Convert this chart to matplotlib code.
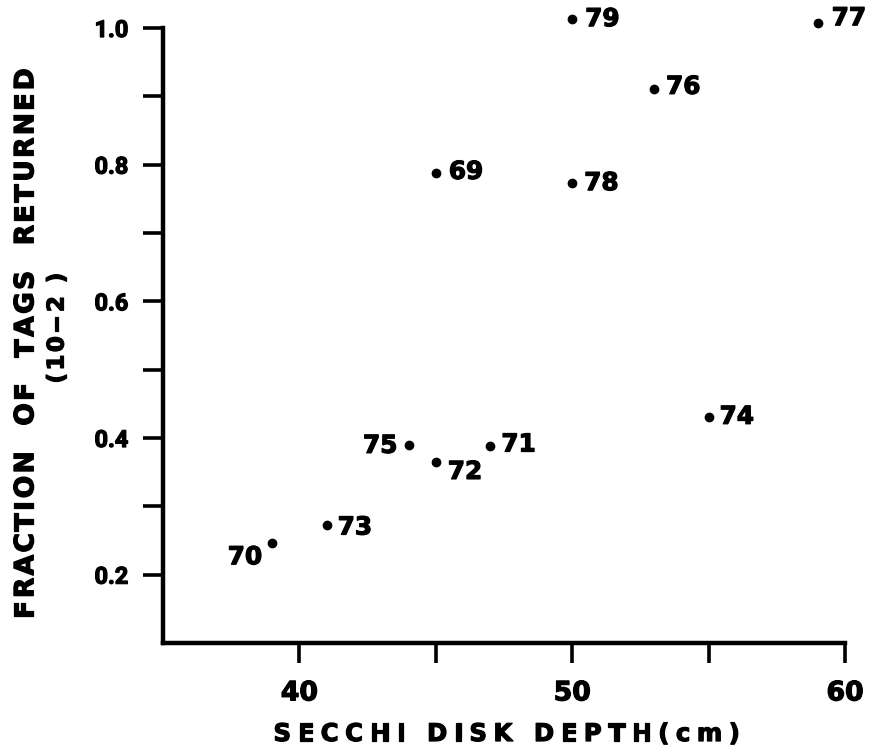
import matplotlib
matplotlib.use("Agg")
import matplotlib.pyplot as plt
import matplotlib.patheffects as pe
from matplotlib import font_manager
from matplotlib.font_manager import FontProperties
from matplotlib.ft2font import FT2Font

# Tag returns against Secchi disk depth, one point per year
years = ["69", "70", "71", "72", "73", "74", "75", "76", "77", "78", "79"]
secchi_cm = [45, 39, 47, 45, 41, 55, 44, 53, 59, 50, 50]
fraction_returned = [0.788, 0.246, 0.389, 0.365, 0.272, 0.431, 0.390,
                     0.911, 1.007, 0.773, 1.013]

x_major = [40, 50, 60]
x_minor = [45, 55]
x_labels = ["40", "50", "60"]
y_major = [0.2, 0.4, 0.6, 0.8, 1.0]
y_minor = [0.3, 0.5, 0.7, 0.9]
y_labels = ["0.2", "0.4", "0.6", "0.8", "1.0"]

# Year label placement around each dot: (dx px, dy px downward, side)
label_place = {
    "69": (13, -3, "left"), "70": (-10, 12, "right"), "71": (11, -3, "left"),
    "72": (12, 8, "left"), "73": (11, 0, "left"), "74": (11, -2, "left"),
    "75": (-11, -1, "right"), "76": (12, -4, "left"), "77": (14, -7, "left"),
    "78": (12, -2, "left"), "79": (13, -2, "left"),
}

W, H, DPI = 872, 745, 100
BOLD = FontProperties(family="DejaVu Sans", weight="bold")
HEAVY = [pe.withStroke(linewidth=0.9, foreground="black")]


def advance_px(ch, size_pt):
    font = FT2Font(font_manager.findfont(BOLD))
    font.set_size(size_pt, DPI)
    glyph = font.load_char(ord(ch))
    return glyph.linearHoriAdvance / 65536.0


def tracked_text(fig, x0, y0, s, size, tracking, vertical=False, space=None):
    """Letter-spaced bold text; (x0, y0) is the pen origin in pixels from top-left."""
    fp = FontProperties(family="DejaVu Sans", weight="bold", size=size)
    pos = 0.0
    for ch in s:
        adv = advance_px(ch, size)
        if ch == " ":
            pos += (space if space is not None else adv) + tracking
            continue
        if vertical:
            fig.text(x0 / W, 1 - (y0 - pos) / H, ch, rotation=90,
                     rotation_mode="anchor", ha="left", va="baseline",
                     fontproperties=fp, color="black", path_effects=HEAVY)
        else:
            fig.text((x0 + pos) / W, 1 - y0 / H, ch, ha="left", va="baseline",
                     fontproperties=fp, color="black", path_effects=HEAVY)
        pos += adv + tracking


fig = plt.figure(figsize=(W / DPI, H / DPI), dpi=DPI)
fig.patch.set_facecolor("white")
ax = fig.add_axes([163 / W, 1 - 643 / H, (845 - 163) / W, (643 - 28) / H])

ax.plot(secchi_cm, fraction_returned, "o", color="black", markersize=6.0,
        clip_on=False, zorder=3)

for yr, xv, yv in zip(years, secchi_cm, fraction_returned):
    dx, dy, side = label_place[yr]
    ax.annotate(yr, (xv, yv), xytext=(dx * 0.72, -(dy + 9) * 0.72),
                textcoords="offset points", ha=side, va="baseline",
                fontsize=17.8, fontweight="bold", family="DejaVu Sans",
                annotation_clip=False, path_effects=HEAVY)

ax.set_xlim(35, 60)
ax.set_ylim(0.1, 1.0)
for side in ("top", "right"):
    ax.spines[side].set_visible(False)
for side in ("left", "bottom"):
    ax.spines[side].set_linewidth(3.2)
    ax.spines[side].set_capstyle("projecting")

ax.set_xticks(x_major, labels=x_labels, fontsize=19.2, fontweight="bold",
              family="DejaVu Sans")
ax.set_xticks(x_minor, minor=True)
ax.set_yticks(y_major, labels=y_labels, fontsize=16.9, fontweight="bold",
              family="Roboto")
ax.set_yticks(y_minor, minor=True)
for lab in ax.get_xticklabels() + ax.get_yticklabels():
    lab.set_path_effects(HEAVY)
ax.tick_params(which="both", direction="out", length=14.4, width=2.6,
               color="black")
ax.tick_params(axis="x", which="both", pad=12.5)
ax.tick_params(axis="y", which="both", pad=10.5)

# Axis titles with wide letter spacing
tracked_text(fig, 273.5, 741, "SECCHI DISK DEPTH(cm)", 17.5, 6.6)
tracked_text(fig, 33.3, 618.5, "FRACTION OF TAGS RETURNED", 19.1, 2.3,
             vertical=True, space=21)
tracked_text(fig, 63.5, 383.5, "(10\u22122 )", 16.5, 2.5, vertical=True)

fig.savefig("out.png", dpi=DPI, facecolor="white")
